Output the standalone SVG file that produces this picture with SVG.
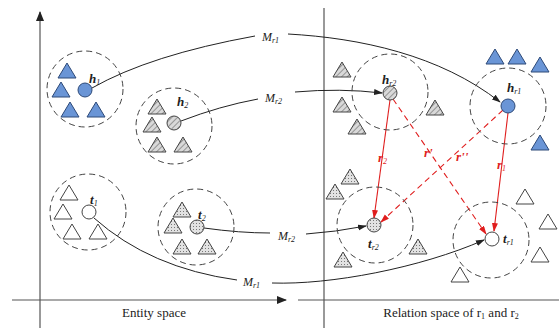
<svg xmlns="http://www.w3.org/2000/svg" width="559" height="328" viewBox="0 0 559 328">
<style>
.axis{stroke:#555;stroke-width:1.2;fill:none}
.dc{fill:none;stroke:#444;stroke-width:1;stroke-dasharray:6 4}
.cv{fill:none;stroke:#222;stroke-width:1}
.rs{fill:none;stroke:#e01e1e;stroke-width:1.1}
.rd{fill:none;stroke:#e01e1e;stroke-width:1.1;stroke-dasharray:6 4}
.blue{fill:#6a95d6;stroke:#2e4a78;stroke-width:1}
.hat{fill:url(#hatch);stroke:#444;stroke-width:1}
.dot{fill:url(#dots);stroke:#444;stroke-width:1}
.open{fill:#fff;stroke:#444;stroke-width:1}
.lb{font-family:'Liberation Serif',serif;font-style:italic;font-weight:bold;font-size:13px;fill:#222}
.lm{font-family:'Liberation Serif',serif;font-style:italic;font-size:12px;fill:#222}
.rl{font-family:'Liberation Serif',serif;font-style:italic;font-weight:bold;font-size:13px;fill:#e01e1e}
.sub{font-size:8px;font-weight:normal}
.cap{font-family:'Liberation Serif',serif;font-size:13px;fill:#222}
</style>
<defs>
<pattern id="hatch" width="4" height="4" patternUnits="userSpaceOnUse" patternTransform="rotate(45)">
<rect width="4" height="4" fill="#d9d9d9"/><line x1="0" y1="0" x2="0" y2="4" stroke="#666" stroke-width="1.2"/>
</pattern>
<pattern id="dots" width="3" height="3" patternUnits="userSpaceOnUse">
<rect width="3" height="3" fill="#e2e2e2"/><circle cx="1.5" cy="1.5" r="0.5" fill="#555"/>
</pattern>
<path id="tri" d="M0,-8 L9,7 L-9,7 Z"/>
<marker id="ab" markerWidth="9" markerHeight="7" refX="8" refY="3" orient="auto" markerUnits="userSpaceOnUse"><path d="M0,0 L9,3 L0,6 Z" fill="#222"/></marker>
<marker id="ar" markerWidth="9" markerHeight="7" refX="8" refY="3" orient="auto" markerUnits="userSpaceOnUse"><path d="M0,0 L9,3 L0,6 Z" fill="#e01e1e"/></marker>
<marker id="ax" markerWidth="10" markerHeight="8" refX="9" refY="4" orient="auto" markerUnits="userSpaceOnUse"><path d="M0,0 L10,4 L0,8 Z" fill="#222"/></marker>
</defs>
<g id="axes">
<line class="axis" x1="40" y1="328" x2="40" y2="12" marker-end="url(#ax)"/>
<line class="axis" x1="324" y1="8" x2="324" y2="328"/>
<line class="axis" x1="12" y1="300" x2="286" y2="300" marker-end="url(#ax)"/>
<line class="axis" x1="298" y1="300" x2="559" y2="300"/>
<text class="cap" x="154" y="317" text-anchor="middle">Entity space</text>
<text class="cap" x="451" y="317" text-anchor="middle">Relation space of r<tspan class="sub" dy="2">1</tspan><tspan dy="-2"> and r</tspan><tspan class="sub" dy="2">2</tspan></text>
</g>
<g id="connectors">
<path class="cv" d="M92,88 Q150,55 255,36"/>
<path class="cv" d="M288,34 C360,38 440,55 500,102" marker-end="url(#ab)"/>
<text class="lm" x="262" y="41">M<tspan class="sub" dy="2">r1</tspan></text>
<path class="cv" d="M181,121 Q220,106 258,99"/>
<path class="cv" d="M295,92 Q340,88 382,93" marker-end="url(#ab)"/>
<text class="lm" x="265" y="102">M<tspan class="sub" dy="2">r2</tspan></text>
<path class="cv" d="M204,228 Q240,233 270,233"/>
<path class="cv" d="M306,234 Q335,232 366,226" marker-end="url(#ab)"/>
<text class="lm" x="278" y="240">M<tspan class="sub" dy="2">r2</tspan></text>
<path class="cv" d="M94,218 Q150,268 237,280"/>
<path class="cv" d="M272,283 C330,285 420,268 484,240" marker-end="url(#ab)"/>
<text class="lm" x="243" y="286">M<tspan class="sub" dy="2">r1</tspan></text>
<line class="rs" x1="390" y1="100" x2="374" y2="218" marker-end="url(#ar)"/>
<line class="rd" x1="393" y1="99" x2="486" y2="234" marker-end="url(#ar)"/>
<line class="rs" x1="508" y1="113" x2="494" y2="231" marker-end="url(#ar)"/>
<line class="rd" x1="503" y1="110" x2="381" y2="222" marker-end="url(#ar)"/>
<text class="rl" x="378" y="162">r<tspan class="sub" dy="2">2</tspan></text>
<text class="rl" x="424" y="157">r'</text>
<text class="rl" x="456" y="161">r''</text>
<text class="rl" x="497" y="169">r<tspan class="sub" dy="2">1</tspan></text>
</g>
<g id="h1">
<circle class="dc" cx="85" cy="89" r="38"/>
<use href="#tri" class="blue" x="67" y="71"/>
<use href="#tri" class="blue" x="61" y="90"/>
<use href="#tri" class="blue" x="70" y="110"/>
<use href="#tri" class="blue" x="96" y="110"/>
<circle class="blue" cx="85" cy="90" r="7"/>
<text class="lb" x="89" y="83">h<tspan class="sub" dy="2">1</tspan></text>
</g>
<g id="h2">
<circle class="dc" cx="174" cy="126" r="38"/>
<use href="#tri" class="hat" x="157" y="107"/>
<use href="#tri" class="hat" x="152" y="125"/>
<use href="#tri" class="hat" x="157" y="145"/>
<use href="#tri" class="hat" x="183" y="145"/>
<circle class="hat" cx="174" cy="123" r="7"/>
<text class="lb" x="177" y="106">h<tspan class="sub" dy="2">2</tspan></text>
</g>
<g id="t1">
<circle class="dc" cx="88" cy="212" r="38"/>
<use href="#tri" class="open" x="69" y="193"/>
<use href="#tri" class="open" x="63" y="212"/>
<use href="#tri" class="open" x="72" y="232"/>
<use href="#tri" class="open" x="98" y="232"/>
<circle class="open" cx="89" cy="212" r="7"/>
<text class="lb" x="90" y="204">t<tspan class="sub" dy="2">1</tspan></text>
</g>
<g id="t2">
<circle class="dc" cx="196" cy="227" r="38"/>
<use href="#tri" class="dot" x="182" y="210"/>
<use href="#tri" class="dot" x="173" y="226"/>
<use href="#tri" class="dot" x="182" y="247"/>
<use href="#tri" class="dot" x="207" y="247"/>
<circle class="dot" cx="197" cy="227" r="7"/>
<text class="lb" x="198" y="219">t<tspan class="sub" dy="2">2</tspan></text>
</g>
<g id="hr2">
<circle class="dc" cx="390" cy="92" r="38"/>
<use href="#tri" class="hat" x="342" y="70"/>
<use href="#tri" class="hat" x="342" y="105"/>
<use href="#tri" class="hat" x="357" y="127"/>
<use href="#tri" class="hat" x="435" y="108"/>
<circle class="hat" cx="390" cy="93" r="7"/>
<text class="lb" x="382" y="84">h<tspan class="sub" dy="2">r2</tspan></text>
</g>
<g id="hr1">
<circle class="dc" cx="508" cy="106" r="38"/>
<use href="#tri" class="blue" x="495" y="57"/>
<use href="#tri" class="blue" x="517" y="57"/>
<use href="#tri" class="blue" x="540" y="65"/>
<use href="#tri" class="blue" x="540" y="143"/>
<circle class="blue" cx="508" cy="106" r="7"/>
<text class="lb" x="507" y="92">h<tspan class="sub" dy="2">r1</tspan></text>
</g>
<g id="tr2">
<circle class="dc" cx="375" cy="225" r="38"/>
<use href="#tri" class="dot" x="350" y="177"/>
<use href="#tri" class="dot" x="335" y="192"/>
<use href="#tri" class="dot" x="343" y="260"/>
<use href="#tri" class="dot" x="418" y="247"/>
<circle class="dot" cx="374" cy="225" r="7"/>
<text class="lb" x="368" y="248">t<tspan class="sub" dy="2">r2</tspan></text>
</g>
<g id="tr1">
<circle class="dc" cx="491" cy="240" r="38"/>
<use href="#tri" class="open" x="525" y="197"/>
<use href="#tri" class="open" x="548" y="222"/>
<use href="#tri" class="open" x="540" y="255"/>
<use href="#tri" class="open" x="460" y="275"/>
<circle class="open" cx="492" cy="239" r="7"/>
<text class="lb" x="503" y="243">t<tspan class="sub" dy="2">r1</tspan></text>
</g>
</svg>
